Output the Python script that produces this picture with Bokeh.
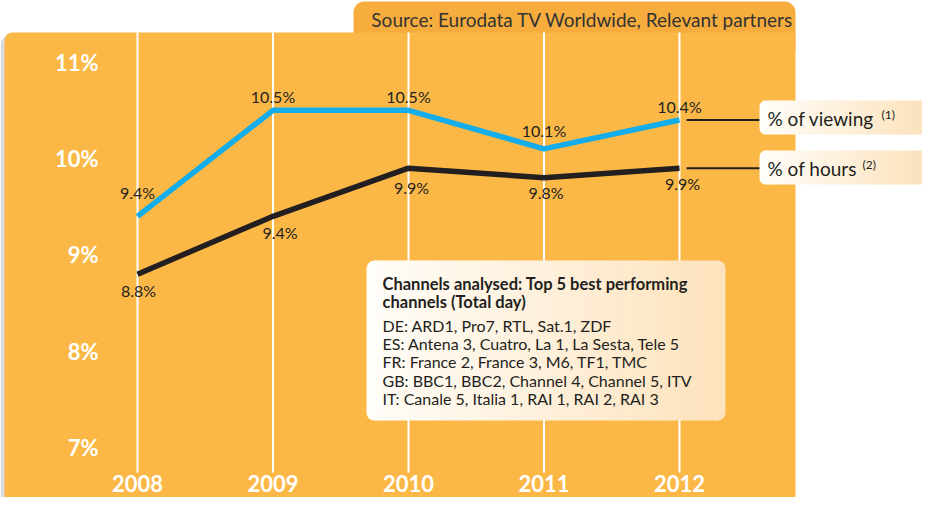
from bokeh.plotting import figure
from bokeh.models import Range1d, ColumnDataSource
from bokeh.core.properties import value
from bokeh.embed import file_html
from bokeh.resources import INLINE

# ---------------- data ----------------
years = [2008, 2009, 2010, 2011, 2012]
viewing = [9.4, 10.5, 10.5, 10.1, 10.4]
hours = [8.8, 9.4, 9.9, 9.8, 9.9]
y_ticks = [11, 10, 9, 8, 7]
y_tick_labels = ["11%", "10%", "9%", "8%", "7%"]
x_tick_labels = ["2008", "2009", "2010", "2011", "2012"]
viewing_labels = ["9.4%", "10.5%", "10.5%", "10.1%", "10.4%"]
hours_labels = ["8.8%", "9.4%", "9.9%", "9.8%", "9.9%"]
source_text = "Source: Eurodata TV Worldwide, Relevant partners"
legend_names = ["% of viewing", "% of hours"]
legend_notes = ["(1)", "(2)"]
info_title = ["Channels analysed: Top 5 best performing", "channels (Total day)"]
info_lines = [
    "DE: ARD1, Pro7, RTL, Sat.1, ZDF",
    "ES: Antena 3, Cuatro, La 1, La Sesta, Tele 5",
    "FR: France 2, France 3, M6, TF1, TMC",
    "GB: BBC1, BBC2, Channel 4, Channel 5, ITV",
    "IT: Canale 5, Italia 1, RAI 1, RAI 2, RAI 3",
]

# ---------------- layout / styles ----------------
W, H = 922, 497
PX_X0, PX_PER_YEAR = 137.0, 135.5     # px of 2008, px per year
PX_Y10, PX_PER_UNIT = 158.0, 96.4     # px of 10%, px per 1%
xs = 2008 - PX_X0 / PX_PER_YEAR
xe = xs + W / PX_PER_YEAR
ytop = 10 + PX_Y10 / PX_PER_UNIT
ybot = 10 - (H - PX_Y10) / PX_PER_UNIT


def X(px):
    return xs + px / PX_PER_YEAR


def Y(py):
    return 10 + (PX_Y10 - py) / PX_PER_UNIT


FONT = value("Lato")
PANEL = "#FBB846"
TAB = "#F6AD3E"
BLUE = "#12ADEA"
DARK = "#231F20"

p = figure(width=W, height=H, output_backend="svg", toolbar_location=None,
           x_range=Range1d(xs, xe), y_range=Range1d(ybot, ytop),
           min_border=0, x_axis_location=None, y_axis_location=None)
p.grid.visible = False
p.outline_line_color = None
p.background_fill_color = "white"
p.border_fill_color = "white"


def hexrgb(c):
    c = c.lstrip("#")
    return tuple(int(c[i:i + 2], 16) for i in (0, 2, 4))


def mix(c0, c1, t):
    a, b = hexrgb(c0), hexrgb(c1)
    return "#%02x%02x%02x" % tuple(int(round(a[i] + (b[i] - a[i]) * t)) for i in range(3))


def grad_box(l, r, t, b, c0, c1, radius, n=40):
    p.quad(left=[X(l)], right=[X(l + 2 * radius)], top=[Y(t)], bottom=[Y(b)],
           fill_color=c0, line_color=None, border_radius=radius)
    p.quad(left=[X(r - 2 * radius)], right=[X(r)], top=[Y(t)], bottom=[Y(b)],
           fill_color=c1, line_color=None, border_radius=radius)
    w = (r - l - 2 * radius) / n
    lefts, rights, cols = [], [], []
    for i in range(n):
        x0 = l + radius + i * w
        lefts.append(X(x0))
        rights.append(X(x0 + w + 0.6))
        cols.append(mix(c0, c1, (i + 0.5) / n))
    p.quad(left=lefts, right=rights, top=[Y(t)] * n, bottom=[Y(b)] * n,
           fill_color=cols, line_color=None)


# shadow + source tab + panel
p.quad(left=[X(0)], right=[X(792)], top=[Y(35)], bottom=[Y(506)],
       fill_color="#BFC3C8", fill_alpha=0.6, line_color=None, border_radius=9)
p.quad(left=[X(353)], right=[X(795)], top=[Y(1)], bottom=[Y(50)],
       fill_color=TAB, line_color=None, border_radius=(11, 11, 0, 0))
p.text(x=[X(582)], y=[Y(19)], text=[source_text], text_font=FONT,
       text_font_size="19px", text_color="#333333", text_align="center",
       text_baseline="middle")
p.quad(left=[X(4)], right=[X(795)], top=[Y(32)], bottom=[Y(503)],
       fill_color=PANEL, line_color=None, border_radius=(8, 0, 8, 8))

# vertical grid lines
p.segment(x0=years, x1=years, y0=[Y(32)] * len(years), y1=[Y(472)] * len(years),
          line_color="white", line_width=2)

# y tick labels
p.text(x=[X(98)] * len(y_ticks), y=y_ticks, text=y_tick_labels, text_font=FONT,
       text_font_style="bold", text_font_size="22px", text_color="white",
       text_align="right", text_baseline="middle")
# x tick labels
p.text(x=years, y=[Y(483)] * len(years), text=x_tick_labels, text_font=FONT,
       text_font_style="bold", text_font_size="22px", text_color="white",
       text_align="center", text_baseline="middle")

# connectors to legend boxes
p.segment(x0=[X(686), X(686)], x1=[X(762), X(762)], y0=[viewing[-1], hours[-1]],
          y1=[viewing[-1], hours[-1]], line_color=DARK, line_width=2)

# series lines
p.line(years, viewing, line_color=BLUE, line_width=5.5)
p.line(years, hours, line_color=DARK, line_width=5.5)

# value labels
v_off = [-24, -14, -14, -18, -13]
h_off = [16, 16, 19, 15, 15]
h_xoff = [1, 7, 3, 2, 3]
src_v = ColumnDataSource(dict(x=years, y=viewing, t=viewing_labels, yo=v_off))
src_h = ColumnDataSource(dict(x=years, y=hours, t=hours_labels, yo=h_off, xo=h_xoff))
p.text(x="x", y="y", text="t", y_offset="yo", source=src_v, text_font=FONT,
       text_font_size="16px", text_color=DARK, text_align="center",
       text_baseline="middle")
p.text(x="x", y="y", text="t", y_offset="yo", x_offset="xo", source=src_h,
       text_font=FONT, text_font_size="16px", text_color=DARK,
       text_align="center", text_baseline="middle")

# legend boxes
box_tops = [100, 150]
note_x = [881, 862]
for i, name in enumerate(legend_names):
    t = box_tops[i]
    grad_box(759, 940, t, t + 34, "#FFFDF8", "#FCE0B8", 6)
    p.text(x=[X(767)], y=[Y(t + 18)], text=[name], text_font=FONT,
           text_font_size="19px", text_color=DARK, text_baseline="middle")
    p.text(x=[X(note_x[i])], y=[Y(t + 14)], text=[legend_notes[i]], text_font=FONT,
           text_font_size="12px", text_color=DARK, text_baseline="middle")

# info box
grad_box(366, 725, 260, 420, "#FFFDF8", "#FDE3BD", 8)
p.text(x=[X(382)] * 2, y=[Y(283), Y(301)], text=info_title, text_font=FONT,
       text_font_style="bold", text_font_size="16.5px", text_color=DARK,
       text_baseline="middle")
p.text(x=[X(382)] * len(info_lines), y=[Y(325 + 18.2 * i) for i in range(len(info_lines))],
       text=info_lines, text_font=FONT, text_font_size="16px",
       text_color=DARK, text_baseline="middle")

open("out.html", "w").write(file_html(p, INLINE))
